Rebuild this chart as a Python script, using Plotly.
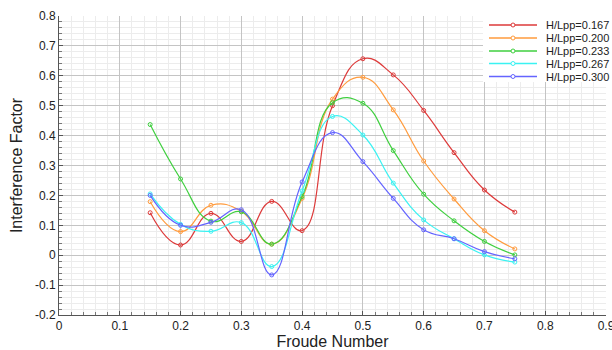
import plotly.graph_objects as go

# Froude numbers at which the interference factor was evaluated
froude = [0.15, 0.20, 0.25, 0.30, 0.35, 0.40, 0.45, 0.50, 0.55, 0.60, 0.65, 0.70, 0.75]

# Interference factor for each depth ratio H/Lpp
h_0167 = [0.142, 0.034, 0.140, 0.046, 0.180, 0.082, 0.500, 0.657, 0.603, 0.484, 0.343, 0.218, 0.144]
h_0200 = [0.179, 0.079, 0.167, 0.147, 0.037, 0.190, 0.522, 0.595, 0.486, 0.315, 0.188, 0.082, 0.021]
h_0233 = [0.437, 0.255, 0.114, 0.145, 0.037, 0.196, 0.510, 0.508, 0.350, 0.204, 0.115, 0.046, 0.001]
h_0267 = [0.205, 0.103, 0.080, 0.109, -0.038, 0.215, 0.464, 0.402, 0.241, 0.118, 0.055, 0.001, -0.023]
h_0300 = [0.200, 0.100, 0.110, 0.152, -0.066, 0.245, 0.410, 0.313, 0.190, 0.085, 0.055, 0.012, -0.012]

series_names = ["H/Lpp=0.167", "H/Lpp=0.200", "H/Lpp=0.233", "H/Lpp=0.267", "H/Lpp=0.300"]
series_values = [h_0167, h_0200, h_0233, h_0267, h_0300]
series_colors = ["#dd3a3a", "#ff9b3d", "#3fcf3f", "#3af2f2", "#6464ff"]

# Tick positions and labels (plain hyphen for negatives)
x_ticks = [0.0, 0.1, 0.2, 0.3, 0.4, 0.5, 0.6, 0.7, 0.8, 0.9]
x_tick_text = ["0", "0.1", "0.2", "0.3", "0.4", "0.5", "0.6", "0.7", "0.8", "0.9"]
y_ticks = [-0.2, -0.1, 0.0, 0.1, 0.2, 0.3, 0.4, 0.5, 0.6, 0.7, 0.8]
y_tick_text = ["-0.2", "-0.1", "0", "0.1", "0.2", "0.3", "0.4", "0.5", "0.6", "0.7", "0.8"]

FONT = "Liberation Sans, Arial"

fig = go.Figure()
for name, vals, col in zip(series_names, series_values, series_colors):
    fig.add_trace(go.Scatter(
        x=froude, y=vals, name=name, mode="lines+markers", showlegend=False,
        line=dict(color=col, width=1.2, shape="spline", smoothing=1.3),
        marker=dict(symbol="circle-open", size=4, color=col, line=dict(width=1)),
    ))

axis_common = dict(
    showgrid=True, gridcolor="#c4c4c4", gridwidth=1,
    showline=True, linecolor="#555555", linewidth=1,
    ticks="inside", ticklen=4, tickcolor="#555555",
    zeroline=False, automargin=False, ticklabeloverflow="allow",
    tickfont=dict(family=FONT, size=12, color="#222222"),
    minor=dict(tick0=0, dtick=0.02, showgrid=True, gridcolor="#ececec", gridwidth=1,
               ticks="inside", ticklen=3, tickcolor="#777777"),
)

fig.update_xaxes(
    range=[0, 0.9], tickmode="array", tickvals=x_ticks, ticktext=x_tick_text,
    title=dict(text="Froude Number", font=dict(family=FONT, size=16, color="#222222"), standoff=4),
    **axis_common,
)
fig.update_yaxes(
    range=[-0.2, 0.8], tickmode="array", tickvals=y_ticks, ticktext=y_tick_text,
    title=dict(text="Interference Factor", font=dict(family=FONT, size=16, color="#222222"), standoff=8),
    **axis_common,
)

# Plot area geometry in pixels, used to place the compact legend box
W, H = 612, 350
ML, MR, MT, MB = 59, 6, 16, 35
PW, PH = W - ML - MR, H - MT - MB


def px_x(p):
    return (p - ML) / PW


def px_y(p):
    return (H - MB - p) / PH


shapes = [dict(type="rect", xref="paper", yref="paper", layer="above",
               x0=px_x(483), x1=px_x(612), y0=px_y(82), y1=px_y(14),
               fillcolor="white", line=dict(width=0))]
annotations = []
row_y = [25, 38, 51, 63.5, 76.5]
for name, col, ry in zip(series_names, series_colors, row_y):
    shapes.append(dict(type="line", xref="paper", yref="paper", layer="above",
                       x0=px_x(489), x1=px_x(537), y0=px_y(ry), y1=px_y(ry),
                       line=dict(color=col, width=1.5)))
    shapes.append(dict(type="circle", xref="paper", yref="paper", layer="above",
                       x0=px_x(511), x1=px_x(515), y0=px_y(ry + 2), y1=px_y(ry - 2),
                       line=dict(color=col, width=1), fillcolor="white"))
    annotations.append(dict(text=name, xref="paper", yref="paper", showarrow=False,
                            x=px_x(544), y=px_y(ry), xanchor="left", yanchor="middle",
                            font=dict(family=FONT, size=11, color="#222222")))

fig.update_layout(
    width=W, height=H,
    margin=dict(l=ML, r=MR, t=MT, b=MB),
    paper_bgcolor="white", plot_bgcolor="white",
    font=dict(family=FONT, size=12, color="#222222"),
    shapes=shapes, annotations=annotations,
    showlegend=False,
)

fig.write_html("out.html")
